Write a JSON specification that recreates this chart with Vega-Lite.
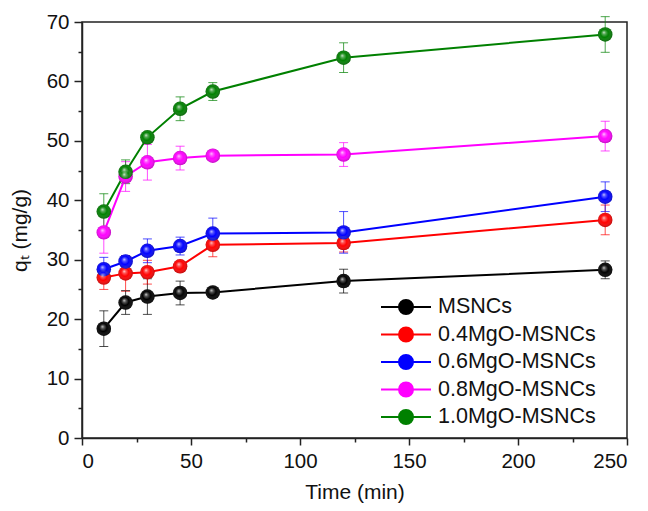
{
  "$schema": "https://vega.github.io/schema/vega-lite/v6.json",
  "width": 545,
  "height": 416,
  "autosize": {"type": "none"},
  "padding": {"left": 82, "top": 22, "right": 21, "bottom": 73},
  "background": "white",
  "config": {
    "font": "Liberation Sans",
    "view": {"stroke": "#222222", "strokeWidth": 1.5},
    "axis": {
      "domainColor": "#222222",
      "domainWidth": 1.5,
      "tickColor": "#222222",
      "tickWidth": 1.5,
      "labelFontSize": 20.5,
      "labelColor": "#111111",
      "titleFontSize": 21,
      "titleFontWeight": "normal",
      "titleColor": "#111111",
      "grid": false
    },
    "legend": {
      "title": null,
      "orient": "none",
      "legendX": 313,
      "legendY": 274,
      "padding": 0,
      "symbolType": "M-2.5,0L2.5,0M-0.7,0A0.7,0.7,0,1,1,0.7,0A0.7,0.7,0,1,1,-0.7,0Z",
      "symbolSize": 400,
      "symbolStrokeWidth": 2,
      "symbolOpacity": 1,
      "labelFontSize": 21.5,
      "labelColor": "#111111",
      "labelOffset": 21,
      "rowPadding": 5.5,
      "labelLimit": 300
    }
  },
  "data": {
    "values": [
      {"series": "MSNCs", "t": 10, "q": 18.4, "err": 3.0},
      {"series": "MSNCs", "t": 20, "q": 22.8, "err": 2.0},
      {"series": "MSNCs", "t": 30, "q": 23.8, "err": 3.0},
      {"series": "MSNCs", "t": 45, "q": 24.4, "err": 2.0},
      {"series": "MSNCs", "t": 60, "q": 24.5, "err": 0.6},
      {"series": "MSNCs", "t": 120, "q": 26.4, "err": 2.0},
      {"series": "MSNCs", "t": 240, "q": 28.3, "err": 1.5},
      {"series": "0.4MgO-MSNCs", "t": 10, "q": 27.0, "err": 2.0},
      {"series": "0.4MgO-MSNCs", "t": 20, "q": 27.7, "err": 3.0},
      {"series": "0.4MgO-MSNCs", "t": 30, "q": 27.9, "err": 2.0},
      {"series": "0.4MgO-MSNCs", "t": 45, "q": 28.9, "err": 0.8},
      {"series": "0.4MgO-MSNCs", "t": 60, "q": 32.5, "err": 2.0},
      {"series": "0.4MgO-MSNCs", "t": 120, "q": 32.8, "err": 1.5},
      {"series": "0.4MgO-MSNCs", "t": 240, "q": 36.7, "err": 2.5},
      {"series": "0.6MgO-MSNCs", "t": 10, "q": 28.4, "err": 2.0},
      {"series": "0.6MgO-MSNCs", "t": 20, "q": 29.7, "err": 1.0},
      {"series": "0.6MgO-MSNCs", "t": 30, "q": 31.5, "err": 2.0},
      {"series": "0.6MgO-MSNCs", "t": 45, "q": 32.3, "err": 1.5},
      {"series": "0.6MgO-MSNCs", "t": 60, "q": 34.4, "err": 2.6},
      {"series": "0.6MgO-MSNCs", "t": 120, "q": 34.6, "err": 3.5},
      {"series": "0.6MgO-MSNCs", "t": 240, "q": 40.6, "err": 2.5},
      {"series": "0.8MgO-MSNCs", "t": 10, "q": 34.6, "err": 3.5},
      {"series": "0.8MgO-MSNCs", "t": 20, "q": 44.0, "err": 2.5},
      {"series": "0.8MgO-MSNCs", "t": 30, "q": 46.4, "err": 3.0},
      {"series": "0.8MgO-MSNCs", "t": 45, "q": 47.1, "err": 2.0},
      {"series": "0.8MgO-MSNCs", "t": 60, "q": 47.5, "err": 0.6},
      {"series": "0.8MgO-MSNCs", "t": 120, "q": 47.7, "err": 2.0},
      {"series": "0.8MgO-MSNCs", "t": 240, "q": 50.8, "err": 2.5},
      {"series": "1.0MgO-MSNCs", "t": 10, "q": 38.1, "err": 3.0},
      {"series": "1.0MgO-MSNCs", "t": 20, "q": 44.8, "err": 2.0},
      {"series": "1.0MgO-MSNCs", "t": 30, "q": 50.6, "err": 0.6},
      {"series": "1.0MgO-MSNCs", "t": 45, "q": 55.4, "err": 2.0},
      {"series": "1.0MgO-MSNCs", "t": 60, "q": 58.3, "err": 1.5},
      {"series": "1.0MgO-MSNCs", "t": 120, "q": 64.0, "err": 2.5},
      {"series": "1.0MgO-MSNCs", "t": 240, "q": 67.9, "err": 3.0}
    ]
  },
  "encoding": {
    "x": {
      "field": "t",
      "type": "quantitative",
      "scale": {"domain": [0, 250], "nice": false, "zero": false},
      "axis": {
        "title": "Time (min)",
        "values": [0, 25, 50, 75, 100, 125, 150, 175, 200, 225, 250],
        "labelExpr": "datum.value % 50 === 0 ? datum.label : ''",
        "tickSize": {"condition": {"test": "datum.value % 50 === 0", "value": 7}, "value": 4},
        "labelPadding": 6,
        "titlePadding": 10
      }
    },
    "y": {
      "field": "q",
      "type": "quantitative",
      "scale": {"domain": [0, 70], "nice": false},
      "axis": {
        "title": "qₜ (mg/g)",
        "values": [0, 5, 10, 15, 20, 25, 30, 35, 40, 45, 50, 55, 60, 65, 70],
        "labelExpr": "datum.value % 10 === 0 ? datum.label : ''",
        "tickSize": {"condition": {"test": "datum.value % 10 === 0", "value": 8}, "value": 4},
        "labelPadding": 5,
        "titlePadding": 16
      }
    }
  },
  "layer": [
    {
      "mark": {"type": "errorbar", "ticks": {"size": 9, "thickness": 1, "opacity": 0.7}, "rule": {"strokeWidth": 1, "opacity": 0.7}},
      "encoding": {
        "yError": {"field": "err"},
        "color": {"field": "series", "type": "nominal",
          "scale": {"domain": ["MSNCs", "0.4MgO-MSNCs", "0.6MgO-MSNCs", "0.8MgO-MSNCs", "1.0MgO-MSNCs"],
                    "range": ["#000000", "#ff0000", "#0000ff", "#ff00ff", "#008000"]}}
      }
    },
    {
      "mark": {"type": "line", "strokeWidth": 2},
      "encoding": {
        "color": {"field": "series", "type": "nominal"}
      }
    },
    {
      "mark": {"type": "point", "shape": "circle", "filled": true, "size": 210, "opacity": 1},
      "encoding": {
        "color": {"field": "series", "type": "nominal"}
      }
    },
    {
      "mark": {
        "type": "point", "shape": "circle", "filled": true, "size": 210, "opacity": 1,
        "fill": {
          "gradient": "radial",
          "x1": 0.4, "y1": 0.35, "r1": 0,
          "x2": 0.5, "y2": 0.5, "r2": 0.55,
          "stops": [
            {"offset": 0, "color": "rgba(255,255,255,0.85)"},
            {"offset": 0.2, "color": "rgba(255,255,255,0.35)"},
            {"offset": 0.5, "color": "rgba(255,255,255,0)"},
            {"offset": 1, "color": "rgba(0,0,0,0.35)"}
          ]
        }
      }
    }
  ]
}
